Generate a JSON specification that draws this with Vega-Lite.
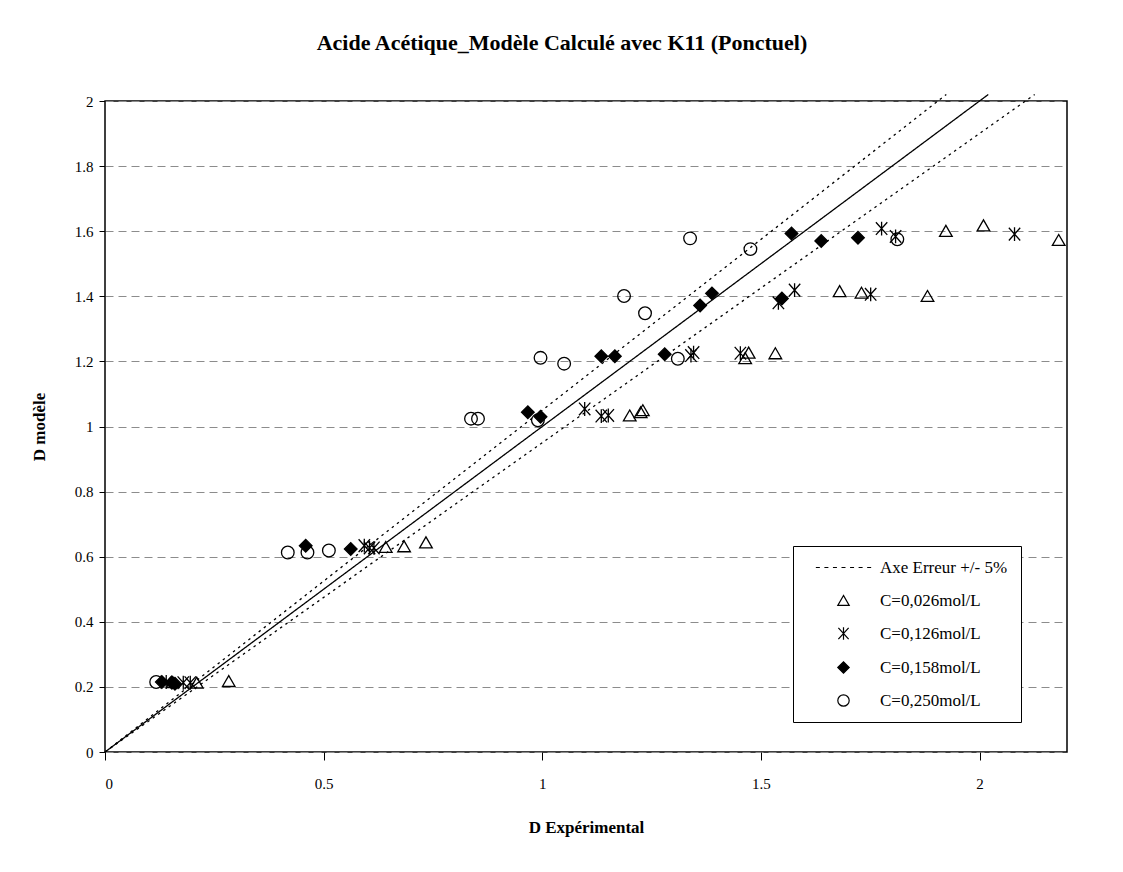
{
  "$schema": "https://vega.github.io/schema/vega-lite/v6.json",
  "width": 962,
  "height": 651,
  "autosize": {"type": "none"},
  "padding": {"left": 105, "top": 101, "right": 56, "bottom": 120},
  "background": "white",
  "title": {
    "text": "Acide Acétique_Modèle Calculé avec K11 (Ponctuel)",
    "font": "Liberation Serif",
    "fontSize": 22,
    "fontWeight": "bold",
    "color": "black",
    "anchor": "middle",
    "dx": -24,
    "offset": 37
  },
  "config": {
    "view": {"stroke": "black", "strokeWidth": 1.5},
    "axis": {
      "labelFont": "Liberation Serif",
      "labelFontSize": 15,
      "labelColor": "black",
      "titleFont": "Liberation Serif",
      "titleFontSize": 17,
      "titleFontWeight": "bold",
      "titleColor": "black",
      "domain": false,
      "tickColor": "black",
      "tickWidth": 1
    },
    "legend": {
      "labelFont": "Liberation Serif",
      "labelFontSize": 17,
      "labelColor": "black",
      "symbolStrokeColor": "black",
      "symbolStrokeWidth": 1.2
    }
  },
  "layer": [
    {
      "data": {
        "values": [
          {"line": "identite", "kind": "solid", "x": 0, "y": 0},
          {"line": "identite", "kind": "solid", "x": 2.02, "y": 2.02},
          {"line": "plus5", "kind": "dotted", "x": 0, "y": 0},
          {"line": "plus5", "kind": "dotted", "x": 1.924, "y": 2.02},
          {"line": "moins5", "kind": "dotted", "x": 0, "y": 0},
          {"line": "moins5", "kind": "dotted", "x": 2.126, "y": 2.02}
        ]
      },
      "mark": {"type": "line", "color": "black", "strokeWidth": 1.3, "clip": false},
      "encoding": {
        "x": {"field": "x", "type": "quantitative", "scale": {"domain": [0, 2.2], "nice": false, "zero": false},
          "axis": {"values": [0, 0.5, 1, 1.5, 2], "format": "~g", "grid": false, "tickSize": 8, "labelPadding": 16, "titlePadding": 28, "title": "D Expérimental"}},
        "y": {"field": "y", "type": "quantitative", "scale": {"domain": [0, 2], "nice": false},
          "axis": {"values": [0, 0.2, 0.4, 0.6, 0.8, 1, 1.2, 1.4, 1.6, 1.8, 2], "format": "~g", "grid": true, "gridColor": "#8c8c8c", "gridDash": [8, 5], "gridWidth": 1, "tickSize": 6, "labelPadding": 6, "titlePadding": 26, "title": "D modèle"}},
        "detail": {"field": "line"},
        "strokeDash": {"field": "kind", "type": "nominal", "scale": {"domain": ["solid", "dotted"], "range": [[1, 0], [2.5, 4]]}, "legend": null}
      }
    },
    {
      "data": {
        "values": [
          {"series": "C=0,026mol/L", "x": 0.155, "y": 0.215},
          {"series": "C=0,026mol/L", "x": 0.21, "y": 0.213},
          {"series": "C=0,026mol/L", "x": 0.283, "y": 0.218},
          {"series": "C=0,026mol/L", "x": 0.642, "y": 0.63},
          {"series": "C=0,026mol/L", "x": 0.684, "y": 0.632},
          {"series": "C=0,026mol/L", "x": 0.734, "y": 0.644},
          {"series": "C=0,026mol/L", "x": 1.2, "y": 1.034},
          {"series": "C=0,026mol/L", "x": 1.225, "y": 1.044},
          {"series": "C=0,026mol/L", "x": 1.23, "y": 1.05},
          {"series": "C=0,026mol/L", "x": 1.464, "y": 1.21},
          {"series": "C=0,026mol/L", "x": 1.472, "y": 1.227},
          {"series": "C=0,026mol/L", "x": 1.533, "y": 1.225},
          {"series": "C=0,026mol/L", "x": 1.68, "y": 1.416},
          {"series": "C=0,026mol/L", "x": 1.73, "y": 1.411},
          {"series": "C=0,026mol/L", "x": 1.881, "y": 1.401},
          {"series": "C=0,026mol/L", "x": 1.923, "y": 1.601},
          {"series": "C=0,026mol/L", "x": 2.009, "y": 1.618},
          {"series": "C=0,026mol/L", "x": 2.181, "y": 1.573},
          {"series": "C=0,126mol/L", "x": 0.14, "y": 0.215},
          {"series": "C=0,126mol/L", "x": 0.179, "y": 0.213},
          {"series": "C=0,126mol/L", "x": 0.195, "y": 0.213},
          {"series": "C=0,126mol/L", "x": 0.593, "y": 0.634},
          {"series": "C=0,126mol/L", "x": 0.605, "y": 0.627},
          {"series": "C=0,126mol/L", "x": 0.615, "y": 0.627},
          {"series": "C=0,126mol/L", "x": 1.097, "y": 1.054},
          {"series": "C=0,126mol/L", "x": 1.135, "y": 1.032},
          {"series": "C=0,126mol/L", "x": 1.151, "y": 1.034},
          {"series": "C=0,126mol/L", "x": 1.34, "y": 1.218},
          {"series": "C=0,126mol/L", "x": 1.346, "y": 1.227},
          {"series": "C=0,126mol/L", "x": 1.453, "y": 1.225},
          {"series": "C=0,126mol/L", "x": 1.54, "y": 1.38},
          {"series": "C=0,126mol/L", "x": 1.577, "y": 1.419},
          {"series": "C=0,126mol/L", "x": 1.751, "y": 1.406},
          {"series": "C=0,126mol/L", "x": 1.776, "y": 1.608},
          {"series": "C=0,126mol/L", "x": 1.808, "y": 1.584},
          {"series": "C=0,126mol/L", "x": 2.08, "y": 1.591},
          {"series": "C=0,158mol/L", "x": 0.13, "y": 0.215},
          {"series": "C=0,158mol/L", "x": 0.153, "y": 0.213},
          {"series": "C=0,158mol/L", "x": 0.16, "y": 0.21},
          {"series": "C=0,158mol/L", "x": 0.459, "y": 0.634},
          {"series": "C=0,158mol/L", "x": 0.562, "y": 0.624},
          {"series": "C=0,158mol/L", "x": 0.967, "y": 1.044},
          {"series": "C=0,158mol/L", "x": 0.996, "y": 1.03},
          {"series": "C=0,158mol/L", "x": 1.135, "y": 1.216},
          {"series": "C=0,158mol/L", "x": 1.166, "y": 1.216},
          {"series": "C=0,158mol/L", "x": 1.28, "y": 1.222},
          {"series": "C=0,158mol/L", "x": 1.361, "y": 1.372},
          {"series": "C=0,158mol/L", "x": 1.388, "y": 1.409},
          {"series": "C=0,158mol/L", "x": 1.548, "y": 1.393},
          {"series": "C=0,158mol/L", "x": 1.57, "y": 1.593},
          {"series": "C=0,158mol/L", "x": 1.638, "y": 1.57},
          {"series": "C=0,158mol/L", "x": 1.722, "y": 1.58},
          {"series": "C=0,250mol/L", "x": 0.117, "y": 0.215},
          {"series": "C=0,250mol/L", "x": 0.418, "y": 0.613},
          {"series": "C=0,250mol/L", "x": 0.463, "y": 0.613},
          {"series": "C=0,250mol/L", "x": 0.512, "y": 0.619},
          {"series": "C=0,250mol/L", "x": 0.837, "y": 1.024},
          {"series": "C=0,250mol/L", "x": 0.853, "y": 1.024},
          {"series": "C=0,250mol/L", "x": 0.99, "y": 1.019},
          {"series": "C=0,250mol/L", "x": 0.996, "y": 1.211},
          {"series": "C=0,250mol/L", "x": 1.05, "y": 1.193},
          {"series": "C=0,250mol/L", "x": 1.31, "y": 1.208},
          {"series": "C=0,250mol/L", "x": 1.187, "y": 1.401},
          {"series": "C=0,250mol/L", "x": 1.235, "y": 1.348},
          {"series": "C=0,250mol/L", "x": 1.338, "y": 1.578},
          {"series": "C=0,250mol/L", "x": 1.476, "y": 1.545},
          {"series": "C=0,250mol/L", "x": 1.812, "y": 1.575}
        ]
      },
      "mark": {"type": "point", "strokeWidth": 1.3, "size": 160, "opacity": 1},
      "encoding": {
        "x": {"field": "x", "type": "quantitative"},
        "y": {"field": "y", "type": "quantitative"},
        "shape": {
          "field": "series", "type": "nominal",
          "scale": {
            "domain": ["Axe Erreur +/- 5%", "C=0,026mol/L", "C=0,126mol/L", "C=0,158mol/L", "C=0,250mol/L"],
            "range": [
              "M-4.85,0h0.7M-3.35,0h0.7M-1.85,0h0.7M-0.35,0h0.7M1.15,0h0.7M2.65,0h0.7M4.15,0h0.7",
              "triangle-up",
              "M-0.9,-1L0.9,1M-0.9,1L0.9,-1M0,-1.1L0,1.1",
              "diamond",
              "circle"
            ]
          },
          "legend": {
            "orient": "none", "legendX": 688, "legendY": 445, "title": null,
            "strokeColor": "black", "fillColor": "white", "padding": 13,
            "rowPadding": 15, "labelOffset": 28, "symbolOffset": 29, "symbolSize": 130
          }
        },
        "fill": {
          "field": "series", "type": "nominal",
          "scale": {
            "domain": ["Axe Erreur +/- 5%", "C=0,026mol/L", "C=0,126mol/L", "C=0,158mol/L", "C=0,250mol/L"],
            "range": ["transparent", "transparent", "transparent", "black", "transparent"]
          },
          "legend": {
            "orient": "none", "legendX": 688, "legendY": 445, "title": null,
            "strokeColor": "black", "fillColor": "white", "padding": 13,
            "rowPadding": 15, "labelOffset": 28, "symbolOffset": 29, "symbolSize": 130
          }
        },
        "stroke": {
          "field": "series", "type": "nominal",
          "scale": {
            "domain": ["Axe Erreur +/- 5%", "C=0,026mol/L", "C=0,126mol/L", "C=0,158mol/L", "C=0,250mol/L"],
            "range": ["black", "black", "black", "black", "black"]
          },
          "legend": {
            "orient": "none", "legendX": 688, "legendY": 445, "title": null,
            "strokeColor": "black", "fillColor": "white", "padding": 13,
            "rowPadding": 15, "labelOffset": 28, "symbolOffset": 29, "symbolSize": 130
          }
        }
      }
    }
  ]
}
